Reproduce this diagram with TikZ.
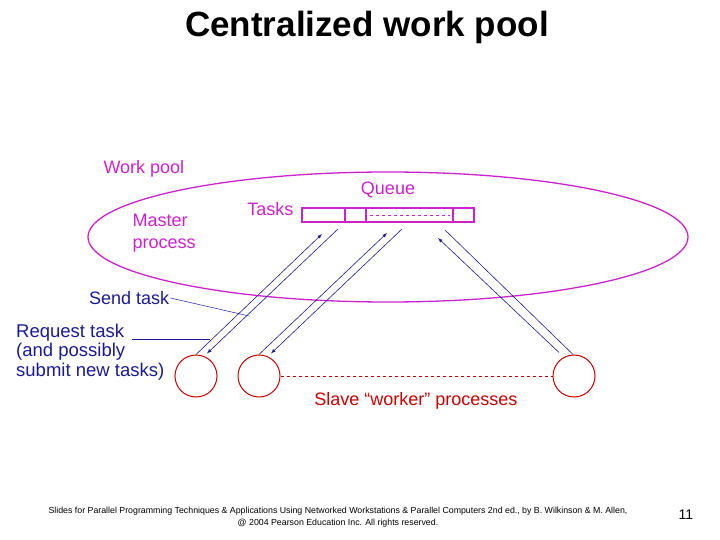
\documentclass[tikz,border=0pt]{standalone}
\usepackage{fontspec}
\setmainfont{Liberation Sans}
\definecolor{pm}{HTML}{CC22CC}
\definecolor{db}{HTML}{1A1A99}
\begin{document}
\begin{tikzpicture}[x=1pt,y=-1pt,
 mag/.style={draw=pm,line width=1.3pt},
 mt/.style={text=pm,font=\fontsize{18}{22}\selectfont},
 proc/.style={circle,draw=red!80!black,line width=1pt,minimum size=42pt,inner sep=0pt},
 arr/.style={draw=db,line width=0.6pt,-latex},
 ln/.style={draw=db,line width=0.6pt}]
\useasboundingbox (0,0) rectangle (720,540);
\node[font=\bfseries\fontsize{35}{40}\selectfont] (title) at (367,27) {Centralized work pool};
\draw[mag] (388,237) ellipse[x radius=300,y radius=65];
\node[mt,anchor=west] (wp) at (100,169) {Work pool};
\node[mt,anchor=west,align=left] (mp) at (129,233) {Master\\process};
\node[mt] (queue) at (388,190) {Queue};
\node[mt,anchor=east] (tasks) at (297,209) {Tasks};
\node[mag,draw,minimum width=172pt,minimum height=14pt,inner sep=0pt] (q) at (388,215) {};
\draw[mag] (345,208) -- (345,222) (366,208) -- (366,222) (453,208) -- (453,222);
\draw[mag,line width=0.9pt,dash pattern=on 3pt off 3pt] (370,215) -- (450,215);
\node[proc] (c1) at (196,376) {};
\node[proc] (c2) at (259,376) {};
\node[proc] (c3) at (574,376) {};
\draw[red!70!black,dashed,line width=0.6pt] (c2.east) -- (c3.west);
\coordinate (a1) at (322,234); \coordinate (b1) at (338,229);
\coordinate (a2) at (387,233); \coordinate (b2) at (402,229);
\coordinate (a3) at (438,238); \coordinate (b3) at (445,230);
\draw[arr] (c1.north) -- (a1);
\draw[arr] (b1) -- ([xshift=11pt,yshift=1pt]c1.north);
\draw[arr] (c2.north) -- (a2);
\draw[arr] (b2) -- ([xshift=12pt,yshift=1pt]c2.north);
\draw[arr] ([xshift=-15pt,yshift=2pt]c3.north) -- (a3);
\draw[ln] (b3) -- ([xshift=-1pt]c3.north);
\node[anchor=west,text=db,font=\fontsize{18}{21}\selectfont,inner sep=1pt] (send) at (88,298) {Send task};
\coordinate (s1) at (249,316);
\draw[db,line width=0.5pt] (send.east) -- (s1);
\node[anchor=west,align=left,text=db,font=\fontsize{18.5}{19.5}\selectfont,inner sep=1pt] (req) at (15,352) {Request task\\(and possibly\\submit new tasks)};
\coordinate (r1) at (210,339);
\draw[db,line width=0.7pt] (132,339) -- (r1);
\node[text=red!80!black,font=\fontsize{18}{21}\selectfont] (slave) at (416,401) {Slave ``worker'' processes};
\node[align=center,font=\fontsize{8.8}{12}\selectfont] (foot) at (338,517) {Slides for Parallel Programming Techniques \& Applications Using Networked Workstations \& Parallel Computers 2nd ed., by B. Wilkinson \& M. Allen,\\@ 2004 Pearson Education Inc. All rights reserved.};
\node[font=\fontsize{14}{16}\selectfont] (pg) at (686,515) {11};
\end{tikzpicture}
\end{document}
